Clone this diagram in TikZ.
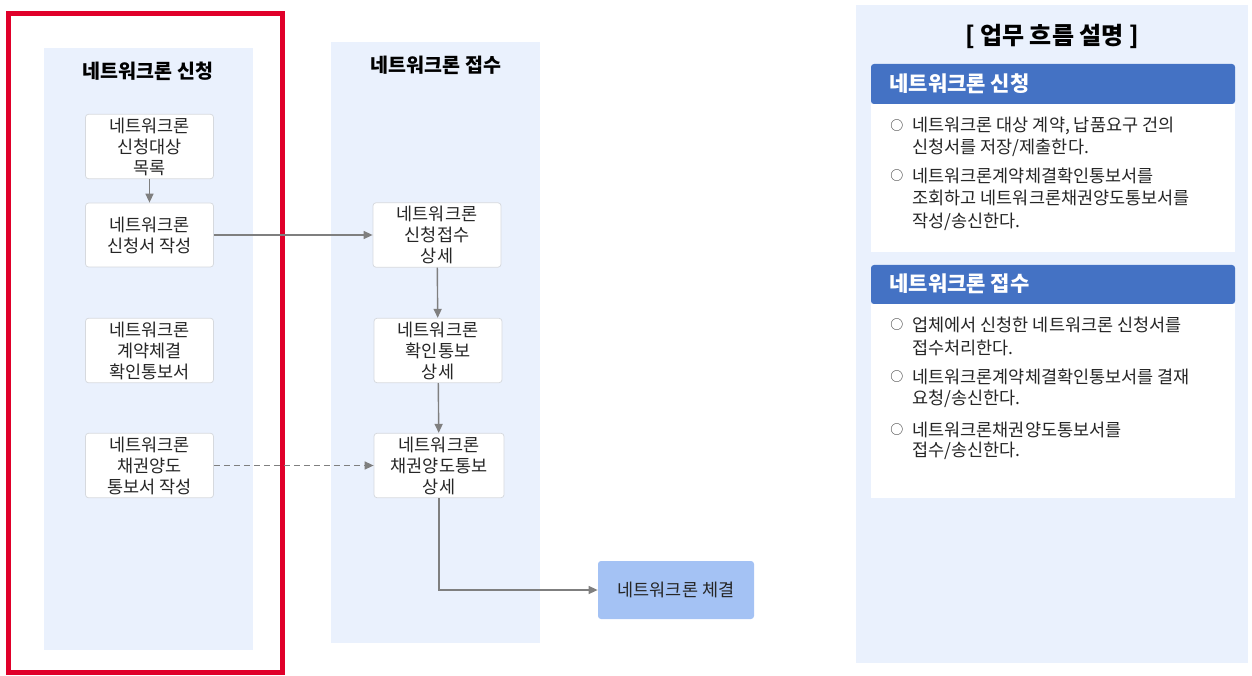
\documentclass[tikz,border=0pt]{standalone}
\usepackage{fontspec}
\setmainfont{Noto Sans CJK KR}
\usetikzlibrary{positioning,arrows.meta}
\definecolor{lanebg}{HTML}{EAF1FD}
\definecolor{boxline}{HTML}{D6D9DE}
\definecolor{hdrblue}{HTML}{4472C4}
\definecolor{endblue}{HTML}{A4C2F4}
\definecolor{framered}{HTML}{E0002A}
\definecolor{arrowgray}{HTML}{7F7F7F}
\tikzset{every picture/.style={line width=0.75pt},
  task/.style={draw=boxline,fill=white,rounded corners=3pt,minimum width=128pt,minimum height=64pt,align=center,font=\fontsize{17.5}{21}\selectfont,text=black!85},
  flow/.style={draw=arrowgray,line width=1.4pt,-{Triangle[length=9pt,width=8pt]}},
  lanetitle/.style={font=\fontsize{19.5}{22}\selectfont\bfseries},
  bullet/.style={anchor=west,inner sep=0pt,font=\fontsize{17.5}{21}\selectfont,text=black!85},
  hdr/.style={anchor=west,inner sep=0pt,font=\fontsize{21}{24}\selectfont\bfseries,text=white}}
\begin{document}
\begin{tikzpicture}[x=1pt,y=1pt,yscale=-1]
\useasboundingbox (0,0) rectangle (1252,676);
% lanes
\fill[lanebg] (44,48) rectangle (253,650);
\fill[lanebg] (331,42) rectangle (540,643);
\fill[lanebg] (856,5) rectangle (1248,663);
\draw[framered,line width=5pt] (8,14) rectangle (282,672);
\node[lanetitle] (t1) at (148,71) {네트워크론 신청};
\node[lanetitle] (t2) at (436,65) {네트워크론 접수};
% left lane
\node[task] (a1) at (149.5,146.5) {네트워크론\\신청대상\\목록};
\node[task] (a2) at (149.5,235) {네트워크론\\신청서 작성};
\node[task] (a3) at (149.5,350.5) {네트워크론\\계약체결\\확인통보서};
\node[task] (a4) at (149.5,465.5) {네트워크론\\채권양도\\통보서 작성};
% middle lane
\node[task] (b1) at (437,235) {네트워크론\\신청접수\\상세};
\node[task] (b2) at (438,350.5) {네트워크론\\확인통보\\상세};
\node[task,minimum width=130pt] (b3) at (439,465.5) {네트워크론\\채권양도통보\\상세};
\node[task,draw=none,fill=endblue,minimum width=156pt,minimum height=58pt] (c1) at (676,590) {네트워크론 체결};
% connectors
\draw[flow] (a1) -- (a2);
\draw[flow] (a2) -- (b1);
\draw[flow] (b1) -- (b2);
\draw[flow] (b2) -- (b3);
\draw[flow,dash pattern=on 6pt off 4pt] (a4) -- (b3);
\draw[flow] (b3) |- (c1);
% description panel
\node[font=\fontsize{24}{26}\selectfont\bfseries] (t3) at (1052,36) {[ 업무 흐름 설명 ]};
\fill[hdrblue,rounded corners=3pt] (871,64) rectangle (1235,104);
\fill[white] (871,104) rectangle (1235,252);
\node[hdr] (h1) at (889,84) {네트워크론 신청};
\fill[hdrblue,rounded corners=3pt] (871,265) rectangle (1235,304);
\fill[white] (871,304) rectangle (1235,498);
\node[hdr] (h2) at (889,284) {네트워크론 접수};
\foreach \y/\txt in {126/{네트워크론 대상 계약, 납품요구 건의},176/{네트워크론계약체결확인통보서를},325/{업체에서 신청한 네트워크론 신청서를},377/{네트워크론계약체결확인통보서를 결재},430/{네트워크론채권양도통보서를}}{
  \node[bullet,font=\fontsize{13}{15}\selectfont] at (890,\y) {○};
  \node[bullet] at (912,\y) {\txt};}
\foreach \y/\txt in {148/{신청서를 저장/제출한다.},198/{조회하고 네트워크론채권양도통보서를},222/{작성/송신한다.},348/{접수처리한다.},399/{요청/송신한다.},451/{접수/송신한다.}}
  \node[bullet] at (912,\y) {\txt};
\end{tikzpicture}
\end{document}
